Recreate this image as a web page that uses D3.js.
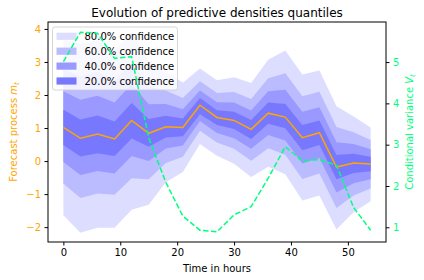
<!DOCTYPE html>
<html>
<head>
<meta charset="utf-8">
<script src="https://cdn.jsdelivr.net/npm/d3@7"></script>
<style>
  body { margin: 0; background: #fff; }
  svg { font-family: "DejaVu Sans", sans-serif; }
</style>
</head>
<body>
<svg id="chart" width="424" height="280"></svg>
<script>
const width = 424;
const height = 280;

// time steps (hours)
const hours = [0, 3, 6, 9, 12, 15, 18, 21, 24, 27, 30, 33, 36, 39, 42, 45, 48, 51, 54];
// median forecast m_t
const median = [1.02, 0.69, 0.82, 0.67, 1.23, 0.84, 1.04, 1.02, 1.69, 1.32, 1.23, 0.96, 1.45, 1.33, 0.71, 0.86, -0.18, -0.06, -0.09];
// quantiles (lower/upper edges)
const q10 = [-1.64, -2.17, -2.02, -2.02, -1.47, -1.32, -0.64, -0.33, 0.52, 0.16, -0.08, -0.48, -0.17, -0.40, -1.19, -1.04, -2.07, -1.55, -1.22];
const q20 = [-0.68, -1.12, -0.98, -1.02, -0.52, -0.55, -0.06, 0.13, 0.92, 0.56, 0.37, 0.01, 0.39, 0.19, -0.54, -0.38, -1.42, -1.04, -0.83];
const q30 = [-0.03, -0.42, -0.30, -0.38, 0.15, 0.00, 0.38, 0.47, 1.21, 0.85, 0.69, 0.37, 0.79, 0.62, -0.07, 0.09, -0.95, -0.67, -0.55];
const q40 = [0.49, 0.14, 0.24, 0.15, 0.68, 0.43, 0.71, 0.75, 1.42, 1.09, 0.97, 0.67, 1.13, 0.99, 0.33, 0.49, -0.55, -0.36, -0.31];
const q60 = [1.55, 1.26, 1.38, 1.20, 1.76, 1.27, 1.37, 1.29, 1.91, 1.54, 1.49, 1.24, 1.77, 1.73, 1.09, 1.23, 0.18, 0.22, 0.13];
const q70 = [2.11, 1.86, 1.98, 1.77, 2.33, 1.72, 1.73, 1.57, 2.14, 1.78, 1.77, 1.53, 2.11, 2.16, 1.49, 1.63, 0.57, 0.52, 0.36];
const q80 = [2.77, 2.57, 2.69, 2.44, 3.00, 2.26, 2.14, 1.91, 2.42, 2.06, 2.09, 1.88, 2.51, 2.66, 1.96, 2.10, 1.03, 0.87, 0.64];
const q90 = [3.68, 3.55, 3.66, 3.36, 3.93, 3.00, 2.72, 2.37, 2.80, 2.45, 2.54, 2.36, 3.07, 3.35, 2.62, 2.74, 1.66, 1.35, 1.02];
// conditional variance V_t
const variance = [5.01, 5.72, 5.70, 5.09, 5.13, 3.17, 2.09, 1.27, 0.93, 0.89, 1.30, 1.50, 2.19, 2.95, 2.61, 2.64, 2.50, 1.48, 0.93];

const bandNames = ["80.0% confidence", "60.0% confidence", "40.0% confidence", "20.0% confidence"];
const bandLow = [q10, q20, q30, q40];
const bandHigh = [q90, q80, q70, q60];
const bandColors = ["#ddddff", "#bbbbff", "#9999ff", "#7878ff"];

const xTicks = [0, 10, 20, 30, 40, 50];
const yTicks = [-2, -1, 0, 1, 2, 3, 4];
const vTicks = [1, 2, 3, 4, 5];

const orange = "#ffa500";
const green = "#00ff7f";

const margin = { left: 48, right: 38, top: 22, bottom: 38 };
const svg = d3.select("#chart");

const x = d3.scaleLinear().domain([-2.7, 56.7]).range([margin.left, width - margin.right]);
const y = d3.scaleLinear().domain([-2.45, 4.21]).range([height - margin.bottom, margin.top]);
const yV = d3.scaleLinear().domain([0.644, 5.97]).range([height - margin.bottom, margin.top]);

const plot = svg.append("g");

bandNames.forEach((name, i) => {
  const area = d3.area()
    .x((d, j) => x(hours[j]))
    .y0((d, j) => y(bandLow[i][j]))
    .y1((d, j) => y(bandHigh[i][j]));
  plot.append("path")
    .attr("d", area(hours))
    .attr("fill", bandColors[i]);
});

const line = d3.line().x((d, j) => x(hours[j])).y((d) => y(d));
plot.append("path")
  .attr("d", line(median))
  .attr("fill", "none")
  .attr("stroke", orange)
  .attr("stroke-width", 1.5);

// axes
const xAxis = svg.append("g")
  .attr("transform", `translate(0,${height - margin.bottom})`)
  .call(d3.axisBottom(x).tickValues(xTicks).tickSize(3.5).tickPadding(3.5).tickFormat(d3.format("d")));
xAxis.select(".domain").remove();
xAxis.selectAll("text").attr("font-size", 10).attr("fill", "#000").attr("font-family", "DejaVu Sans");

const yAxis = svg.append("g")
  .attr("transform", `translate(${margin.left},0)`)
  .call(d3.axisLeft(y).tickValues(yTicks).tickSize(3.5).tickPadding(3.5).tickFormat(d3.format("d")));
yAxis.select(".domain").remove();
yAxis.selectAll("line").attr("stroke", "#000");
yAxis.selectAll("text").attr("font-size", 10).attr("fill", orange).attr("font-family", "DejaVu Sans");

const vAxis = svg.append("g")
  .attr("transform", `translate(${width - margin.right},0)`)
  .call(d3.axisRight(yV).tickValues(vTicks).tickSize(3.5).tickPadding(3.5).tickFormat(d3.format("d")));
vAxis.select(".domain").remove();
vAxis.selectAll("text").attr("font-size", 10).attr("fill", green).attr("font-family", "DejaVu Sans");

// frame
svg.append("rect")
  .attr("x", margin.left)
  .attr("y", margin.top)
  .attr("width", width - margin.left - margin.right)
  .attr("height", height - margin.top - margin.bottom)
  .attr("fill", "none")
  .attr("stroke", "#000")
  .attr("stroke-width", 1);

// legend
const lg = svg.append("g").attr("transform", "translate(52.5,27)");
lg.append("rect")
  .attr("width", 125)
  .attr("height", 63)
  .attr("rx", 2.5)
  .attr("fill", "#fff")
  .attr("fill-opacity", 0.8)
  .attr("stroke", "#cccccc")
  .attr("stroke-width", 0.8);
bandNames.forEach((name, i) => {
  const row = lg.append("g").attr("transform", `translate(4,${9.3 + i * 14.9})`);
  row.append("rect").attr("x", 0).attr("y", -3.6).attr("width", 20).attr("height", 7.2).attr("fill", bandColors[i]);
  row.append("text").attr("x", 28).attr("y", 3.6).attr("font-size", 10).attr("fill", "#000").text(name);
});

// variance line (twin axis, drawn on top)
const vLine = d3.line().x((d, j) => x(hours[j])).y((d) => yV(d));
svg.append("path")
  .attr("d", vLine(variance))
  .attr("fill", "none")
  .attr("stroke", green)
  .attr("stroke-width", 1.5)
  .attr("stroke-dasharray", "5.5,2.4");

// title and labels
svg.append("text")
  .attr("x", (margin.left + width - margin.right) / 2)
  .attr("y", 17)
  .attr("text-anchor", "middle")
  .attr("font-size", 12)
  .attr("fill", "#000")
  .text("Evolution of predictive densities quantiles");

svg.append("text")
  .attr("x", (margin.left + width - margin.right) / 2)
  .attr("y", 272)
  .attr("text-anchor", "middle")
  .attr("font-size", 10)
  .attr("fill", "#000")
  .text("Time in hours");

const midY = (margin.top + height - margin.bottom) / 2;
const yl = svg.append("text")
  .attr("transform", `translate(17,${midY}) rotate(-90)`)
  .attr("text-anchor", "middle")
  .attr("font-size", 10)
  .attr("fill", orange);
yl.append("tspan").text("Forecast process ");
yl.append("tspan").attr("font-style", "italic").text("m");
yl.append("tspan").attr("font-size", 7).attr("font-style", "italic").attr("dy", 2).text("t");

const vl = svg.append("text")
  .attr("transform", `translate(413,${midY}) rotate(-90)`)
  .attr("text-anchor", "middle")
  .attr("font-size", 10)
  .attr("fill", green);
vl.append("tspan").text("Conditional variance ");
vl.append("tspan").attr("font-style", "italic").text("V");
vl.append("tspan").attr("font-size", 7).attr("font-style", "italic").attr("dy", 2).text("t");
</script>
</body>
</html>
